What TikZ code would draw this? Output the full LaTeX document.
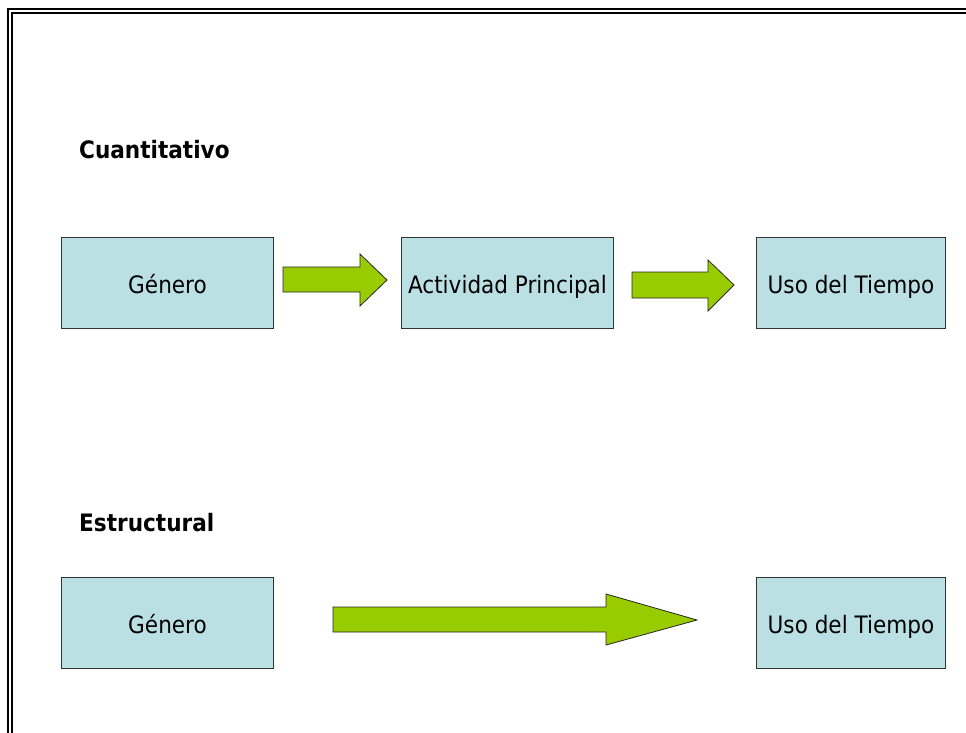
\documentclass[tikz,border=0pt]{standalone}
\usepackage{fontspec}
\setmainfont{DejaVu Sans Condensed}
\begin{document}
\begin{tikzpicture}[x=1pt,y=-1pt,
  boxfill/.style={draw=black!80,line width=1pt,fill=boxcol,minimum width=212pt,minimum height=91pt,inner sep=0pt,text height=20pt,text depth=0pt,font=\fontsize{24}{28}\selectfont,anchor=north west},
  narrowbox/.style={boxfill,minimum width=189pt},
  heading/.style={font=\fontsize{24}{28}\selectfont\bfseries,anchor=base west,inner sep=0pt},
  blockarrow/.style={draw=black!85,line width=0.8pt,fill=arrowcol,line join=miter},
  frameline/.style={line width=2pt,draw=black}]
\definecolor{boxcol}{HTML}{BBE0E3}
\definecolor{arrowcol}{HTML}{99CC00}
\useasboundingbox (0,0) rectangle (966,733);
% double frame (top and left)
\draw[frameline] (966,9) -- (8,9) -- (8,733);
\draw[frameline] (966,13) -- (11.5,13) -- (11.5,733);
% headings
\node[heading] (h1) at (79,158) {Cuantitativo};
\node[heading] (h2) at (79,531) {Estructural};
% boxes
\node[boxfill] (g1) at (61,237) {Género};
\node[boxfill] (ap) at (401,237) {Actividad Principal};
\node[narrowbox] (ut1) at (756,237) {Uso del Tiempo};
\node[boxfill] (g2) at (61,577) {Género};
\node[narrowbox] (ut2) at (756,577) {Uso del Tiempo};
% block arrows
\draw[blockarrow] (283,267) -- (360,267) -- (360,254) -- (387,280) -- (360,306) -- (360,292) -- (283,292) -- cycle;
\draw[blockarrow] (632,272) -- (708,272) -- (708,260) -- (734,285) -- (708,311) -- (708,298) -- (632,298) -- cycle;
\draw[blockarrow] (333,607) -- (606,607) -- (606,594) -- (697,620) -- (606,645) -- (606,632) -- (333,632) -- cycle;
\end{tikzpicture}
\end{document}
